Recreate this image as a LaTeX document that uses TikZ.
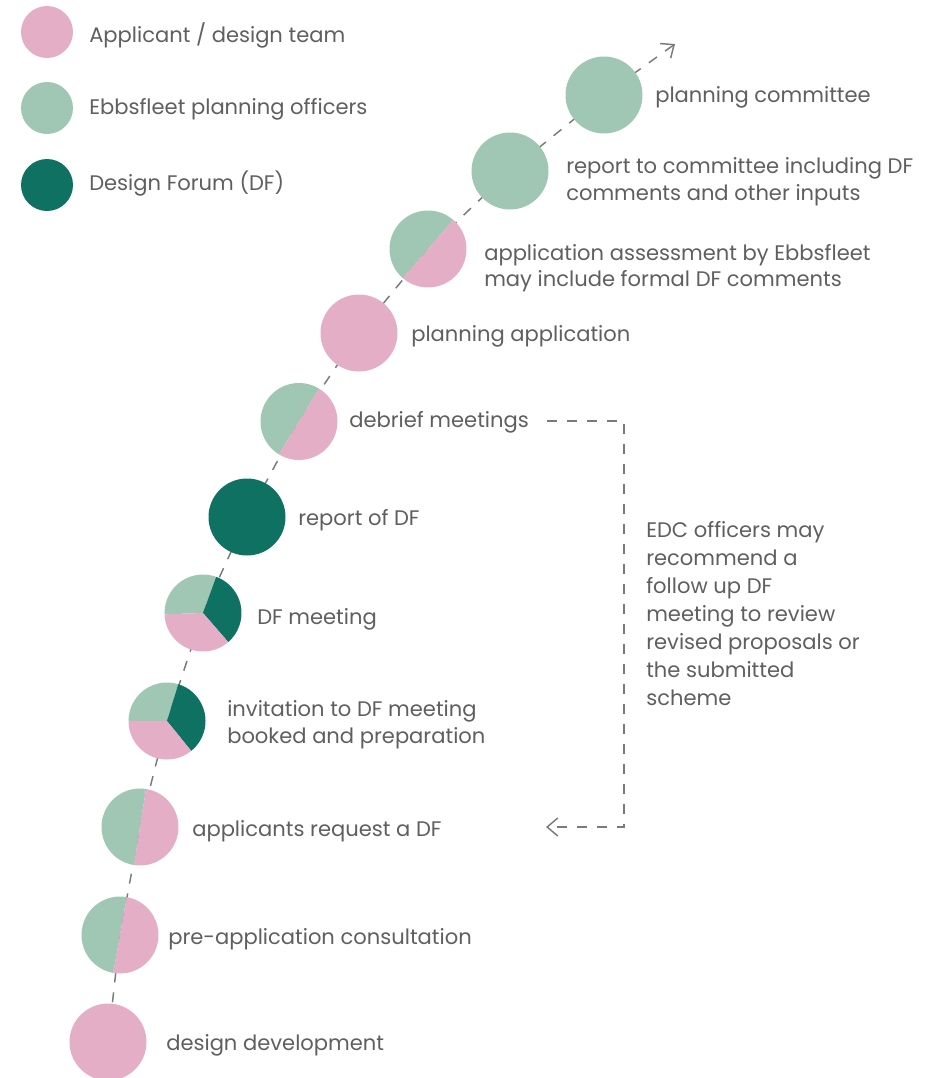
\documentclass[tikz,border=0pt]{standalone}
\usepackage{fontspec}
\setmainfont{Poppins}
\usetikzlibrary{arrows.meta,backgrounds}
\definecolor{appPink}{RGB}{228,175,198}
\definecolor{ebbGreen}{RGB}{160,198,180}
\definecolor{dfGreen}{RGB}{14,113,98}
\definecolor{textGrey}{RGB}{95,95,95}
\definecolor{lineGrey}{RGB}{122,122,122}
\tikzset{
stage/.style={circle,minimum size=57.75pt,inner sep=0pt},
key/.style={circle,minimum size=39pt,inner sep=0pt},
stagetext/.style={anchor=west,inner sep=0.75pt,text=textGrey,font=\fontsize{15.8}{20}\selectfont,align=left},
route/.style={draw=lineGrey,line width=1.1pt,dash pattern=on 7.5pt off 7.5pt},
routetip/.style={-{Straight Barb[length=8pt,width=13.5pt,line width=1.1pt]}}
}

\begin{document}
\begin{tikzpicture}[x=0.75pt,y=0.75pt,yscale=-1,xscale=1]
\useasboundingbox (0,0) rectangle (939,1078);

%Legend
\node [key,fill=appPink] (k1) at (47,32) {};
\node [key,fill=ebbGreen] (k2) at (47,108) {};
\node [key,fill=dfGreen] (k3) at (47,185) {};
% Text Node
\node [stagetext] (kt1) at (88,35) {Applicant / design team};
% Text Node
\node [stagetext] (kt2) at (88,109) {Ebbsfleet planning officers};
% Text Node
\node [stagetext] (kt3) at (88,184) {Design Forum (DF)};

%Shape: Circle [design development]
\node [stage,fill=appPink] (c1) at (108,1042) {};
%Shape: Pie [pre-application]
\node [stage] (c2) at (120,935) {};
\fill [ebbGreen] (c2.center) -- +(100:38.5) arc[start angle=100,end angle=280,radius=38.5] -- cycle;
\fill [appPink] (c2.center) -- +(-80:38.5) arc[start angle=-80,end angle=100,radius=38.5] -- cycle;
%Shape: Pie [applicants request]
\node [stage] (c3) at (140,827) {};
\fill [ebbGreen] (c3.center) -- +(99:38.5) arc[start angle=99,end angle=279,radius=38.5] -- cycle;
\fill [appPink] (c3.center) -- +(-81:38.5) arc[start angle=-81,end angle=99,radius=38.5] -- cycle;
%Shape: Pie [invitation]
\node [stage] (c4) at (167,721) {};
\fill [ebbGreen] (c4.center) -- +(180:38.5) arc[start angle=180,end angle=287,radius=38.5] -- cycle;
\fill [dfGreen] (c4.center) -- +(-73:38.5) arc[start angle=-73,end angle=51,radius=38.5] -- cycle;
\fill [appPink] (c4.center) -- +(51:38.5) arc[start angle=51,end angle=180,radius=38.5] -- cycle;
%Shape: Pie [DF meeting]
\node [stage] (c5) at (203,613) {};
\fill [ebbGreen] (c5.center) -- +(178:38.5) arc[start angle=178,end angle=290,radius=38.5] -- cycle;
\fill [dfGreen] (c5.center) -- +(-70:38.5) arc[start angle=-70,end angle=49,radius=38.5] -- cycle;
\fill [appPink] (c5.center) -- +(49:38.5) arc[start angle=49,end angle=178,radius=38.5] -- cycle;
%Shape: Circle [report of DF]
\node [stage,fill=dfGreen] (c6) at (247,517) {};
%Shape: Pie [debrief]
\node [stage] (c7) at (299,421.5) {};
\fill [ebbGreen] (c7.center) -- +(121.5:38.5) arc[start angle=121.5,end angle=301.5,radius=38.5] -- cycle;
\fill [appPink] (c7.center) -- +(-58.5:38.5) arc[start angle=-58.5,end angle=121.5,radius=38.5] -- cycle;
%Shape: Circle [planning application]
\node [stage,fill=appPink] (c8) at (359,333) {};
%Shape: Pie [assessment]
\node [stage] (c9) at (428,249) {};
\fill [ebbGreen] (c9.center) -- +(131:38.5) arc[start angle=131,end angle=311,radius=38.5] -- cycle;
\fill [appPink] (c9.center) -- +(-49:38.5) arc[start angle=-49,end angle=131,radius=38.5] -- cycle;
%Shape: Circle [report to committee]
\node [stage,fill=ebbGreen] (c10) at (510,171) {};
%Shape: Circle [planning committee]
\node [stage,fill=ebbGreen] (c11) at (604,95) {};
\coordinate (tip) at (675,44);

% Text Node
\node [stagetext] (t1) at (165,1045) {design development};
% Text Node
\node [stagetext] (t2) at (167,939) {pre-application consultation};
% Text Node
\node [stagetext] (t3) at (191,831) {applicants request a DF};
% Text Node
\node [stagetext] (t4) at (226,724.5) {invitation to DF meeting\\booked and preparation};
% Text Node
\node [stagetext] (t5) at (256,619) {DF meeting};
% Text Node
\node [stagetext] (t6) at (297,520) {report of DF};
% Text Node
\node [stagetext] (t7) at (348,422) {debrief meetings};
% Text Node
\node [stagetext] (t8) at (410,336) {planning application};
% Text Node
\node [stagetext] (t9) at (483,268) {application assessment by Ebbsfleet\\may include formal DF comments};
% Text Node
\node [stagetext] (t10) at (565,181.5) {report to committee including DF\\comments and other inputs};
% Text Node
\node [stagetext] (t11) at (654,97) {planning committee};
% Text Node
\node [stagetext,font=\fontsize{15.8}{21}\selectfont] (edc) at (645,614) {EDC officers may\\recommend a\\follow up DF\\meeting to review\\revised proposals or\\the submitted\\scheme};

%Straight Lines [feedback loop]
\coordinate (fb1) at (547,421);
\coordinate (fb2) at (624,421);
\coordinate (fb3) at (624,827);
\coordinate (fb4) at (546,827);
\draw [route,routetip] (fb1) -- (fb2) -- (fb3) -- (fb4);

%Straight Lines [process route]
\begin{pgfonlayer}{background}
\draw [route,routetip] (c1.center) -- (c2.center) -- (c3.center) -- (c4.center) -- (c5.center) -- (c6.center) -- (c7.center) -- (c8.center) -- (c9.center) -- (c10.center) -- (c11.center) -- (tip);
\end{pgfonlayer}

\end{tikzpicture}
\end{document}
